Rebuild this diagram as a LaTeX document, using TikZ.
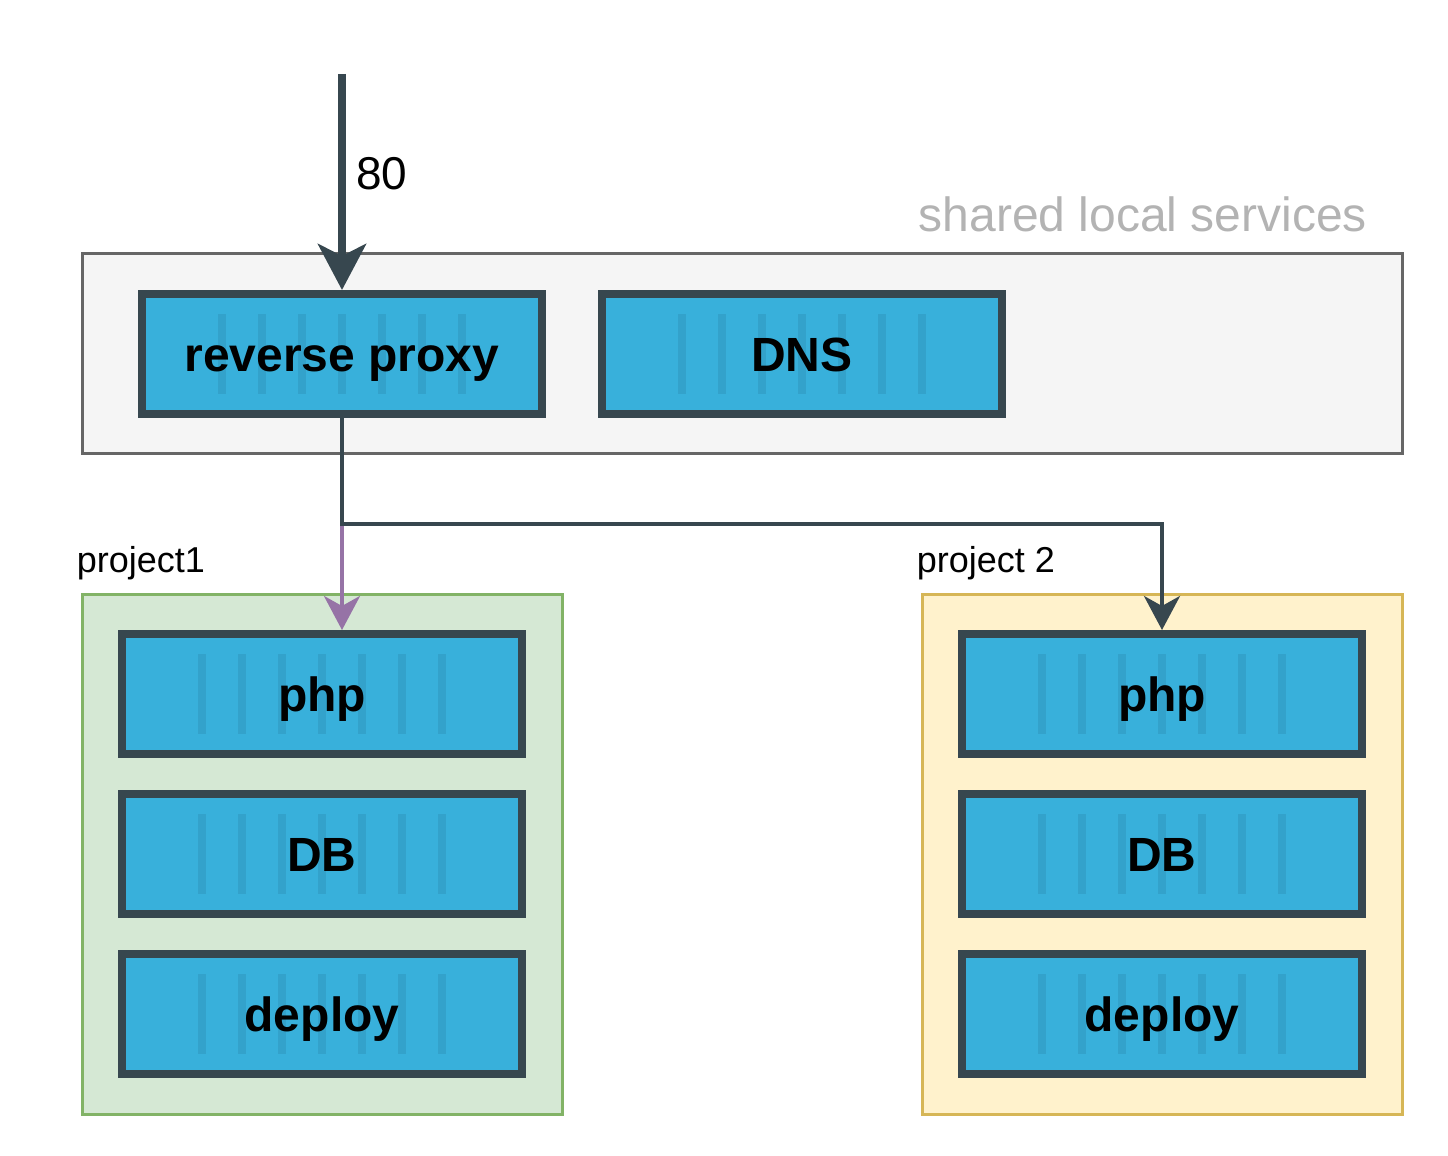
\documentclass[tikz,border=0pt]{standalone}
\usepackage{fontspec}
\setmainfont{Liberation Sans}
\usetikzlibrary{arrows.meta,positioning,fit,calc,backgrounds}
\definecolor{boxblue}{HTML}{38B0DB}
\definecolor{stripe}{HTML}{33A2CB}
\definecolor{slate}{HTML}{37474F}
\definecolor{sharedfill}{HTML}{F5F5F5}
\definecolor{sharedline}{HTML}{666666}
\definecolor{greenfill}{HTML}{D5E8D4}
\definecolor{greenline}{HTML}{82B366}
\definecolor{yellowfill}{HTML}{FFF2CC}
\definecolor{yellowline}{HTML}{D6B656}
\definecolor{captiongray}{HTML}{B3B3B3}
\definecolor{routepurple}{HTML}{9673A6}
\tikzset{
  container/.style={
    draw=slate,
    line width=4pt,
    fill=boxblue,
    minimum width=200pt,
    minimum height=60pt,
    inner sep=0pt,
    text height=17.2pt,
    text depth=0pt,
    font=\fontsize{24}{28}\selectfont\bfseries,
    path picture={
      \foreach \k in {-3,...,3}
        \fill[stripe] ($(path picture bounding box.center)+(\k*20pt-2pt,-20pt)$) rectangle ++(4pt,40pt);
    }
  },
  sharedbox/.style={
    draw=sharedline,
    line width=1.5pt,
    fill=sharedfill
  },
  group/.style={
    draw=#1line,
    line width=1.5pt,
    fill=#1fill,
    inner sep=18pt
  },
  grouplabel/.style={
    anchor=base west,
    inner sep=0pt,
    font=\fontsize{18}{21}\selectfont
  },
  flow/.style={
    draw=slate,
    line width=2pt,
    -{Stealth[length=17pt,width=18pt,inset=5pt]}
  },
  mainflow/.style={
    draw=slate,
    line width=4pt,
    -{Stealth[length=23pt,width=24pt,inset=6pt]}
  }
}

\begin{document}
\begin{tikzpicture}[x=0.5pt,y=-0.5pt,node distance=16pt]
  \useasboundingbox (0,0) rectangle (1448,1156);

  % shared services
  \node[container] (proxy) at (342,354) {reverse proxy};
  \node[container, right=26pt of proxy] (dns) {DNS};

  % projects
  \node[container] (php1) at (322,694) {php};
  \node[container, below=of php1] (db1) {DB};
  \node[container, below=of db1] (deploy1) {deploy};

  \node[container] (php2) at (1162,694) {php};
  \node[container, below=of php2] (db2) {DB};
  \node[container, below=of db2] (deploy2) {deploy};

  \begin{scope}[on background layer]
    \node[sharedbox, minimum width=660pt, minimum height=100pt] (shared) at (742,353.5) {};
    \node[group=green, fit=(php1)(deploy1)] (grp1) {};
    \node[group=yellow, fit=(php2)(deploy2)] (grp2) {};
  \end{scope}

  \node[anchor=base east, inner sep=0pt, text=captiongray, font=\fontsize{24}{28}\selectfont]
    at ([xshift=-18pt,yshift=10pt]shared.north east) {shared local services};
  \node[grouplabel] at ([xshift=-2pt,yshift=10pt]grp1.north west) {project1};
  \node[grouplabel] at ([xshift=-2pt,yshift=10pt]grp2.north west) {project 2};

  % routing
  \coordinate (entry) at (342,74);
  \draw[mainflow] (entry) -- node[pos=0.463, anchor=west, xshift=5pt, inner sep=0pt, font=\fontsize{23}{27}\selectfont] {80} (proxy.north);

  \coordinate (split) at ($(proxy.south)!0.5!(proxy.south |- php2.north)$);
  \draw[flow, draw=routepurple] (proxy.south) -- (proxy.south |- php1.north);
  \draw[flow] (proxy.south) -- (split) -| (php2.north);
\end{tikzpicture}
\end{document}
